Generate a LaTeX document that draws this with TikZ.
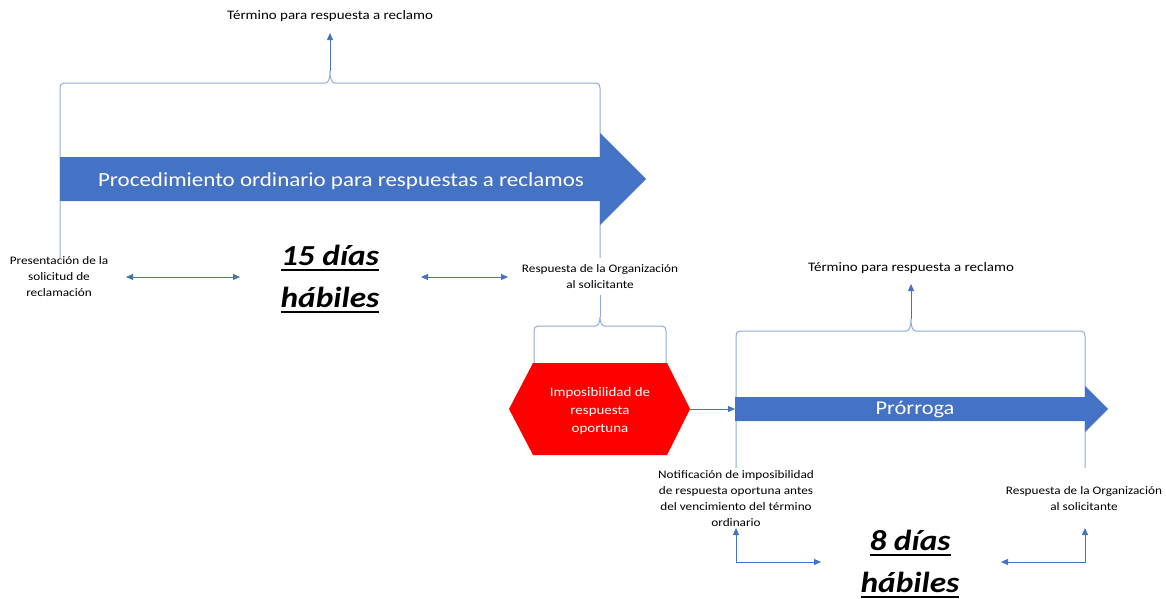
\documentclass[tikz,border=0pt]{standalone}
\usepackage{fontspec}
\setmainfont[FakeStretch=1.15]{Carlito}
\usetikzlibrary{arrows.meta}
\definecolor{bluefill}{HTML}{4472C4}
\definecolor{bracecol}{HTML}{8FAADC}
\definecolor{hexred}{HTML}{FF0000}
\newcommand\myul[1]{\setbox0\hbox{#1}\rlap{\rule[-5pt]{\wd0}{2pt}}\box0}
\begin{document}
\begin{tikzpicture}[x=1pt,y=-1pt,
  brace/.style={draw=bracecol, line width=1pt},
  conn/.style={draw=bluefill, line width=0.9pt, -{Triangle[length=7pt,width=6pt]}},
  dconn/.style={draw=bluefill, line width=0.9pt, {Triangle[length=7pt,width=6pt]}-{Triangle[length=7pt,width=6pt]}},
  lbl/.style={align=center, font=\fontsize{11.5}{16}\selectfont, inner sep=0pt},
  term/.style={font=\fontsize{13}{16}\selectfont, inner sep=0pt},
  big/.style={align=center, font=\fontsize{29}{42}\selectfont\bfseries\itshape, inner sep=0pt}]
\useasboundingbox (0,0) rectangle (1166,598);

% ---------- first brace ----------
\draw[brace] (60,258) -- (60,88) .. controls (60,85) and (61,83) .. (64,83) -- (325,83)
  .. controls (328,83) and (330,80) .. (330,71) .. controls (330,80) and (332,83) .. (335,83)
  -- (596,83) .. controls (599,83) and (600,85) .. (600,88) -- (600,258);
\coordinate (b1tip) at (330,71);
\coordinate (b1end) at (330,33);
\draw[conn] (b1tip) -- (b1end);
\node[term] (term1) at (330,16) {Término para respuesta a reclamo};

% ---------- main arrow ----------
\fill[bluefill] (60,157) -- (600,157) -- (600,133) -- (646,179) -- (600,225) -- (600,201) -- (60,201) -- cycle;
\node[white, font=\fontsize{20}{24}\selectfont, inner sep=0pt] (proc) at (341,181) {Procedimiento ordinario para respuestas a reclamos};

% ---------- labels row 1 ----------
\node[lbl] (pres) at (59,277) {Presentación de la\\solicitud de\\reclamación};
\node[big] (d15) at (330,279) {\myul{15 días}\\\myul{hábiles}};
\node[lbl] (resp1) at (600,277) {Respuesta de la Organización\\al solicitante};
\coordinate (a1l) at (126,277);
\coordinate (a1r) at (240,277);
\coordinate (a2l) at (421,277);
\coordinate (a2r) at (508,277);
\draw[dconn] (a1l) -- (a1r);
\draw[dconn] (a2l) -- (a2r);

% ---------- small brace ----------
\draw[brace] (534,363) -- (534,331) .. controls (534,328) and (535,326) .. (538,326) -- (595,326)
  .. controls (598,326) and (600,323) .. (600,317) .. controls (600,323) and (602,326) .. (605,326)
  -- (662,326) .. controls (665,326) and (666,328) .. (666,331) -- (666,363);
\coordinate (b2tip) at (600,317);
\draw[brace] (b2tip) -- (resp1.south |- 0,295);

% ---------- hexagon ----------
\fill[hexred] (509,409) -- (533,363) -- (667,363) -- (690,409) -- (667,455) -- (533,455) -- cycle;
\node[white, align=center, font=\fontsize{13}{18}\selectfont, inner sep=0pt] (imp) at (600,411) {Imposibilidad de\\respuesta\\oportuna};
\coordinate (hexr) at (690,409);

% ---------- second brace ----------
\draw[brace] (736,468) -- (736,336) .. controls (736,333) and (737,331) .. (740,331) -- (906,331)
  .. controls (909,331) and (911,328) .. (911,319) .. controls (911,328) and (913,331) .. (916,331)
  -- (1081,331) .. controls (1084,331) and (1085,333) .. (1085,336) -- (1085,468);
\coordinate (b3tip) at (911,319);
\coordinate (b3end) at (911,284);
\draw[conn] (b3tip) -- (b3end);
\node[term] (term2) at (911,268) {Término para respuesta a reclamo};

% ---------- prorroga arrow ----------
\fill[bluefill] (735,397) -- (1085,397) -- (1085,386) -- (1108,409) -- (1085,432) -- (1085,421) -- (735,421) -- cycle;
\node[white, font=\fontsize{19.5}{22}\selectfont, inner sep=0pt] (pror) at (915,410) {Prórroga};
\coordinate (prorl) at (735,409);
\draw[conn, line width=0.8pt] (hexr) -- (prorl);

% ---------- labels row 2 ----------
\node[lbl] (notif) at (736,499) {Notificación de imposibilidad\\de respuesta oportuna antes\\del vencimiento del término\\ordinario};
\node[lbl] (resp2) at (1084,499) {Respuesta de la Organización\\al solicitante};
\node[big] (d8) at (910,564) {\myul{8 días}\\\myul{hábiles}};
\coordinate (e1c) at (736,562);
\coordinate (e1u) at (736,528);
\coordinate (e1r) at (821,562);
\coordinate (e2c) at (1085,562);
\coordinate (e2u) at (1085,528);
\coordinate (e2l) at (1001,562);
\draw[dconn] (e1u) -- (e1c) -- (e1r);
\draw[dconn] (e2u) -- (e2c) -- (e2l);
\end{tikzpicture}
\end{document}
